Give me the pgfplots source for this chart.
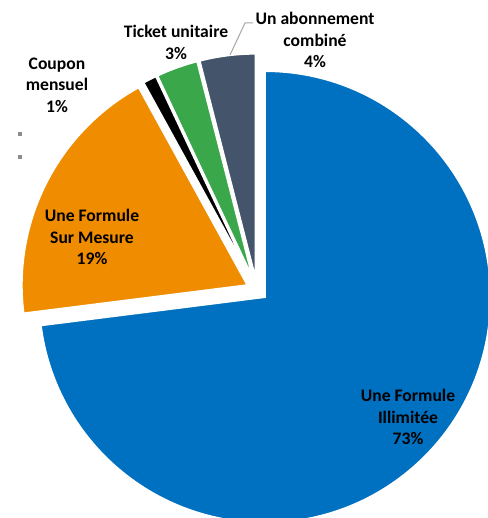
\documentclass[border=0pt]{standalone}
\usepackage{pgfplots}
\pgfplotsset{compat=1.18}
\usepackage{pgfplotstable}
\usetikzlibrary{calc}
\usepackage{fontspec}
\setmainfont{Carlito}
\definecolor{cBlue}{HTML}{0070C0}
\definecolor{cOrange}{HTML}{F08C00}
\definecolor{cBlack}{HTML}{000000}
\definecolor{cGreen}{HTML}{3AA84A}
\definecolor{cSlate}{HTML}{44546A}
\definecolor{cLead}{HTML}{A6A6A6}
\definecolor{cSq}{HTML}{8C8C8C}
% shares (percent), clockwise from 12 o'clock
\def\vA{73}\def\vB{19}\def\vC{1}\def\vD{3}\def\vE{4}
\pgfmathsetmacro\aA{90}
\pgfmathsetmacro\aB{\aA-3.6*\vA}
\pgfmathsetmacro\aC{\aB-3.6*\vB}
\pgfmathsetmacro\aD{\aC-3.6*\vC}
\pgfmathsetmacro\aE{\aD-3.6*\vD}
\pgfmathsetmacro\aF{\aE-3.6*\vE}
\newcommand\slice[3]{%
  \fill[#3, draw=white, line width=1.6pt, line join=miter]
    ($(axis cs:257,228)+({(#1+#2)/2}:7.875pt)$) -- ++(#1:169.5pt)
    arc[start angle=#1, end angle=#2, radius=169.5pt] -- cycle;}
\begin{document}
\begin{tikzpicture}
\begin{axis}[hide axis, scale only axis, x=0.75pt, y=0.75pt,
  xmin=0, xmax=488, ymin=0, ymax=518, clip=true]
\slice{\aA}{\aB}{cBlue}
\slice{\aB}{\aC}{cOrange}
\slice{\aC}{\aD}{cBlack}
\slice{\aD}{\aE}{cGreen}
\slice{\aE}{\aF}{cSlate}
\draw[cLead, line width=0.75pt] (axis cs:230,463) -- (axis cs:245,495) -- (axis cs:253,495);
\fill[cSq] (axis cs:18,382) rectangle (axis cs:22,386);
\fill[cSq] (axis cs:18,359) rectangle (axis cs:22,363);
\tikzset{lab/.style={align=center, font=\fontsize{13.2}{16.1}\selectfont\bfseries, inner sep=0pt}}
\node[lab] at (axis cs:408,101) {Une Formule\\Illimitée\\73\%};
\node[lab] at (axis cs:92,281) {Une Formule\\Sur Mesure\\19\%};
\node[lab] at (axis cs:57,433) {Coupon\\mensuel\\1\%};
\node[lab] at (axis cs:176,475.5) {Ticket unitaire\\3\%};
\node[lab] at (axis cs:315,478) {Un abonnement\\combiné\\4\%};
\end{axis}
\pgfresetboundingbox
\useasboundingbox (current axis.south west) rectangle (current axis.north east);
\end{tikzpicture}
\end{document}
